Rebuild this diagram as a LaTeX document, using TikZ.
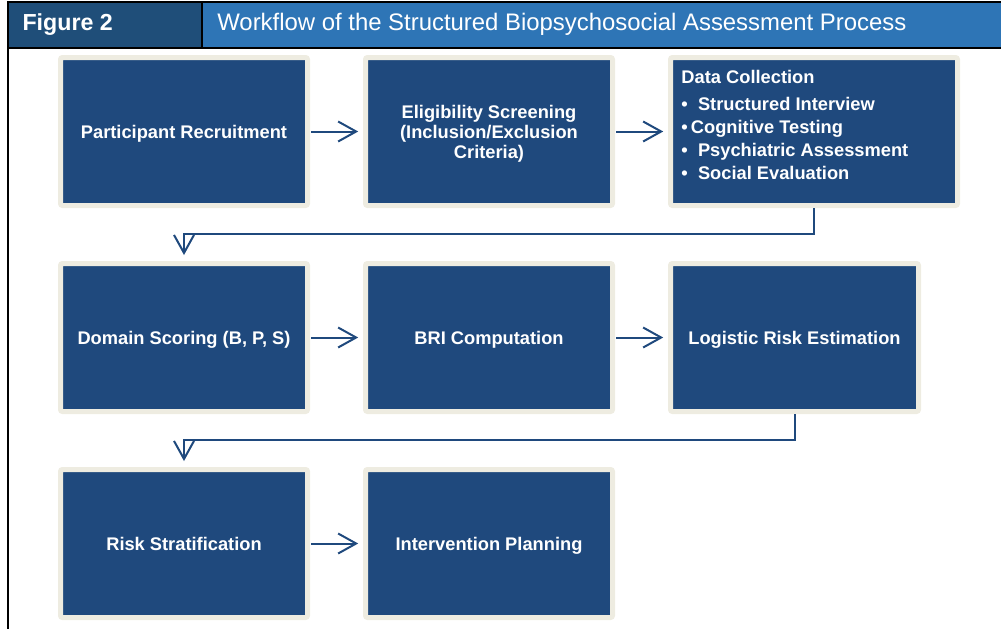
\documentclass[tikz,border=0pt]{standalone}
\usepackage{fontspec}
\setmainfont{Liberation Sans}
\usetikzlibrary{arrows.meta}

\definecolor{boxblue}{HTML}{1F497D}
\definecolor{boxedge}{HTML}{EEECE1}
\definecolor{headdark}{HTML}{1F4E79}
\definecolor{headblue}{HTML}{2E75B6}

\tikzset{
  stepbox/.style={rectangle, fill=boxblue, draw=boxedge, line width=0.125cm,
    rounded corners=0.05cm, minimum width=6.175cm, minimum height=3.7cm,
    inner sep=0, text=white, align=center, text depth=0pt,
    font=\fontsize{13}{14.2}\selectfont\bfseries},
  flow/.style={color=boxblue, line width=0.05cm,
    -{Straight Barb[length=0.45cm,width=0.5cm,line width=0.05cm]}}
}

\begin{document}
\begin{tikzpicture}

\useasboundingbox (0,0) rectangle (25.025,-15.7);

% The header bar
\fill[color=headdark] (0.2,-0.05) rectangle (5.05,-1.19);
\fill[color=headblue] (5.05,-0.05) rectangle (25.1,-1.19);
\draw[color=black,line width=0.05cm] (25.1,-0.05) -- (0.2,-0.05) -- (0.2,-15.8);
\draw[color=black,line width=0.05cm] (0.2,-1.19) -- (25.1,-1.19);
\draw[color=black,line width=0.05cm] (5.05,-0.05) -- (5.05,-1.19);
\node[anchor=west,text=white,font=\fontsize{16.5}{20}\selectfont\bfseries] (fig) at (0.44,-0.61) {Figure 2};
\node[anchor=west,text=white,font=\fontsize{17}{20}\selectfont] (title) at (5.31,-0.61) {Workflow of the Structured Biopsychosocial Assessment Process};

% First row
\node[stepbox] (recruit) at (4.6,-3.2875) {Participant Recruitment};
\node[stepbox] (screen) at (12.225,-3.2875) {Eligibility Screening\\(Inclusion/Exclusion\\Criteria)};
\node[stepbox,minimum width=7.175cm] (collect) at (20.35,-3.2875) {};
\node[anchor=north west,inner sep=0,text=white,align=left,font=\fontsize{13}{16.4}\selectfont\bfseries]
  (collectlist) at ([shift={(0.33,-0.38)}]collect.north west)
  {Data Collection\\[0.09cm]
   \textbullet\ \ Structured Interview\\
   \textbullet\,Cognitive Testing\\
   \textbullet\ \ Psychiatric Assessment\\
   \textbullet\ \ Social Evaluation};

% Second row
\node[stepbox] (scoring) at (4.6,-8.4375) {Domain Scoring (B, P, S)};
\node[stepbox] (bri) at (12.225,-8.4375) {BRI Computation};
\node[stepbox,minimum width=6.2cm] (logit) at (19.8625,-8.4375) {Logistic Risk Estimation};

% Third row
\node[stepbox] (strat) at (4.6,-13.5875) {Risk Stratification};
\node[stepbox] (plan) at (12.225,-13.5875) {Intervention Planning};

% The arrows along each row
\draw[flow,shorten <=0.03cm,shorten >=0.12cm] (recruit) -- (screen);
\draw[flow,shorten <=0.03cm,shorten >=0.12cm] (screen) -- (collect);
\draw[flow,shorten <=0.03cm,shorten >=0.12cm] (scoring) -- (bri);
\draw[flow,shorten <=0.03cm,shorten >=0.12cm] (bri) -- (logit);
\draw[flow,shorten <=0.03cm,shorten >=0.12cm] (strat) -- (plan);

% The turns down to the next row
\draw[flow,shorten >=0.15cm] (collect.south) -- ++(0,-0.65) -| (scoring.north);
\draw[flow,shorten >=0.15cm] (logit.south) -- ++(0,-0.65) -| (strat.north);

\end{tikzpicture}
\end{document}
